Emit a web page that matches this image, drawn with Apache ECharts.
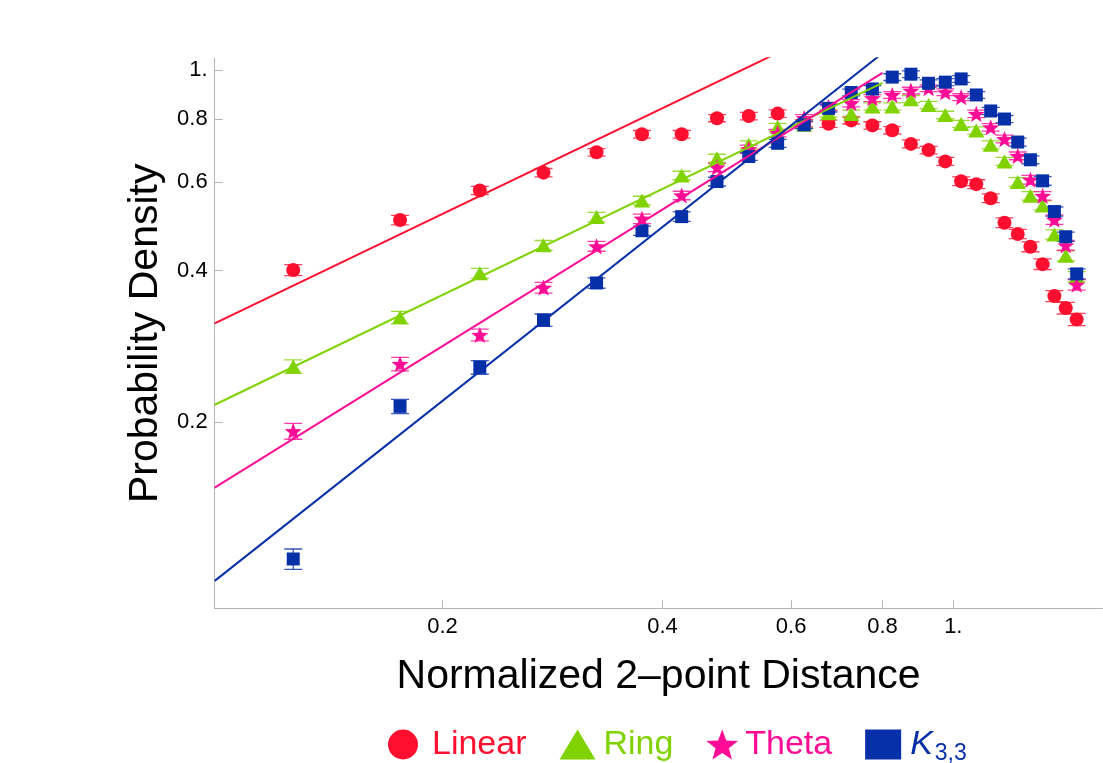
<!DOCTYPE html>
<html>
<head>
<meta charset="utf-8">
<script src="https://cdn.jsdelivr.net/npm/echarts@6/dist/echarts.min.js"></script>
<style>
html,body{margin:0;padding:0;background:#fff;}
#chart{width:1103px;height:763px;}
</style>
</head>
<body>
<div id="chart"></div>
<script>
// ---- data ----
const xValues = [0.125,0.175,0.225,0.275,0.325,0.375,0.425,0.475,0.525,0.575,0.625,0.675,0.725,0.775,0.825,0.875,0.925,0.975,1.025,1.075,1.125,1.175,1.225,1.275,1.325,1.375,1.425,1.475];

const linearY = [0.401,0.504,0.577,0.626,0.687,0.746,0.746,0.803,0.811,0.820,0.785,0.783,0.795,0.777,0.760,0.714,0.694,0.659,0.602,0.594,0.557,0.498,0.473,0.446,0.412,0.356,0.337,0.320];
const ringY   = [0.258,0.323,0.395,0.449,0.511,0.551,0.618,0.669,0.711,0.771,0.779,0.821,0.819,0.847,0.847,0.876,0.853,0.815,0.782,0.759,0.711,0.659,0.600,0.563,0.539,0.472,0.428,0.389];
const thetaY  = [0.192,0.261,0.298,0.370,0.447,0.507,0.564,0.641,0.697,0.750,0.803,0.845,0.860,0.880,0.893,0.911,0.921,0.904,0.884,0.819,0.770,0.730,0.676,0.606,0.563,0.505,0.449,0.375];
const k33Y    = [0.107,0.215,0.257,0.319,0.378,0.480,0.512,0.601,0.674,0.716,0.779,0.840,0.903,0.918,0.969,0.982,0.942,0.947,0.961,0.893,0.830,0.800,0.720,0.664,0.603,0.524,0.467,0.394];

const linearErr = [0.010,0.011,0.011,0.012,0.012,0.013,0.013,0.013,0.014,0.014,0.013,0.013,0.013,0.013,0.013,0.013,0.012,0.012,0.012,0.012,0.011,0.011,0.010,0.010,0.010,0.009,0.009,0.009];
const ringErr   = [0.008,0.009,0.009,0.010,0.011,0.011,0.012,0.012,0.013,0.013,0.013,0.014,0.014,0.014,0.014,0.014,0.014,0.014,0.013,0.013,0.013,0.012,0.012,0.011,0.011,0.010,0.010,0.009];
const thetaErr  = [0.007,0.008,0.008,0.009,0.010,0.011,0.011,0.012,0.013,0.013,0.013,0.014,0.014,0.014,0.014,0.014,0.014,0.014,0.014,0.014,0.013,0.013,0.012,0.012,0.011,0.011,0.010,0.009];
const k33Err    = [0.005,0.007,0.008,0.009,0.009,0.010,0.011,0.012,0.012,0.013,0.013,0.014,0.014,0.014,0.015,0.015,0.015,0.015,0.015,0.014,0.014,0.013,0.013,0.012,0.012,0.011,0.010,0.009];

// power-law fit lines (end points)
const linearFit = [[0.0976, 0.3143], [0.8, 1.363]];
const ringFit   = [[0.0976, 0.2166], [0.8, 0.9436]];
const thetaFit  = [[0.0976, 0.1483], [0.8, 0.9877]];
const k33Fit    = [[0.0976, 0.0968], [0.8, 1.081]];

const xTicks = [0.2, 0.4, 0.6, 0.8, 1];
const yTicks = [0.2, 0.4, 0.6, 0.8, 1];
const seriesNames = ['Linear', 'Ring', 'Theta', 'K33'];

// ---- styling ----
const FONT = 'Liberation Sans, Arial, sans-serif';
const C = { Linear: '#ff0f2f', Ring: '#80d200', Theta: '#ff0b95', K33: '#0630a8' };
const STAR = 'path://M50,0L62.34,33.01L97.55,34.55L69.97,56.49L79.39,90.45L50,71L20.61,90.45L30.03,56.49L2.45,34.55L37.66,33.01Z';
const AXIS_GRAY = '#b4b4b4';

function pts(ys, errs) { return xValues.map((x, i) => [x, ys[i], errs[i]]); }

function errRender(color) {
  return function (params, api) {
    const x = api.value(0), y = api.value(1), e = api.value(2);
    const hi = api.coord([x, y + e]);
    const lo = api.coord([x, y - e]);
    const hw = 9;
    const st = { stroke: color, lineWidth: 1.3, opacity: 0.8 };
    return {
      type: 'group',
      children: [
        { type: 'line', shape: { x1: hi[0], y1: hi[1], x2: lo[0], y2: lo[1] }, style: st },
        { type: 'line', shape: { x1: hi[0] - hw, y1: hi[1], x2: hi[0] + hw, y2: hi[1] }, style: st },
        { type: 'line', shape: { x1: lo[0] - hw, y1: lo[1], x2: lo[0] + hw, y2: lo[1] }, style: st }
      ]
    };
  };
}

const sets = [
  { name: 'Linear', ys: linearY, errs: linearErr, fit: linearFit, symbol: 'circle', size: 14 },
  { name: 'Ring',   ys: ringY,   errs: ringErr,   fit: ringFit,   symbol: 'triangle', size: [16, 14] },
  { name: 'Theta',  ys: thetaY,  errs: thetaErr,  fit: thetaFit,  symbol: STAR, size: 17 },
  { name: 'K33',    ys: k33Y,    errs: k33Err,    fit: k33Fit,    symbol: 'rect', size: 13 }
];

const series = [];
sets.forEach((s, i) => {
  const data = pts(s.ys, s.errs);
  series.push({
    type: 'custom', name: s.name + ' err', renderItem: errRender(C[s.name]),
    data: data, encode: { x: 0, y: 1 }, z: 2 + i * 0.1, silent: true, clip: true
  });
  series.push({
    type: 'scatter', name: s.name, data: data, encode: { x: 0, y: 1 },
    symbol: s.symbol, symbolSize: s.size, symbolKeepAspect: true,
    itemStyle: { color: C[s.name], opacity: 1 }, z: 3 + i * 0.1, silent: true
  });
});
sets.forEach((s, i) => {
  series.push({
    type: 'line', name: s.name + ' fit', data: s.fit, showSymbol: false, symbol: 'none',
    lineStyle: { color: C[s.name], width: 2 }, z: 4 + i * 0.1, silent: true, clip: true
  });
});

function fmt(v) {
  const r = Math.round(v * 10) / 10;
  return r === 1 ? '1.' : r.toFixed(1);
}

const chart = echarts.init(document.getElementById('chart'), null, { renderer: 'canvas' });
chart.setOption({
  animation: false,
  backgroundColor: '#ffffff',
  grid: { left: 214.7, right: 0.5, top: 58.3, bottom: 154.7, containLabel: false },
  xAxis: {
    type: 'log', logBase: 10, min: 0.0976, max: 1.6,
    name: 'Normalized 2\u2013point Distance', nameLocation: 'middle', nameGap: 48,
    nameTextStyle: { fontFamily: FONT, fontSize: 41, color: '#000' },
    axisLine: { show: true, lineStyle: { color: AXIS_GRAY, width: 1 } },
    axisTick: { show: true, inside: true, length: 8, lineStyle: { color: AXIS_GRAY }, customValues: xTicks },
    axisLabel: { show: true, customValues: xTicks, formatter: fmt, fontFamily: FONT, fontSize: 22, color: '#000', margin: 8 },
    splitLine: { show: false }, minorTick: { show: false }
  },
  yAxis: {
    type: 'log', logBase: 10, min: 0.0854, max: 1.056,
    name: 'Probability Density', nameLocation: 'middle', nameGap: 47,
    nameTextStyle: { fontFamily: FONT, fontSize: 41, color: '#000' },
    axisLine: { show: true, lineStyle: { color: AXIS_GRAY, width: 1 } },
    axisTick: { show: true, inside: true, length: 8, lineStyle: { color: AXIS_GRAY }, customValues: yTicks },
    axisLabel: { show: true, customValues: yTicks, formatter: fmt, fontFamily: FONT, fontSize: 22, color: '#000', margin: 7 },
    splitLine: { show: false }, minorTick: { show: false }
  },
  legend: {
    show: true, left: 383, top: 719, orient: 'horizontal',
    itemWidth: 36, itemHeight: 30, itemGap: 33,
    selectedMode: false,
    data: [
      { name: 'Linear', icon: 'circle', textStyle: { color: C.Linear, padding: [0, 0, 0, 6] } },
      { name: 'Ring', icon: 'triangle', textStyle: { color: C.Ring, padding: [0, 0, 0, 3] } },
      { name: 'Theta', icon: STAR, textStyle: { color: C.Theta } },
      { name: 'K33', icon: 'rect', textStyle: { color: C.K33, padding: [0, 0, 0, 4] } }
    ],
    formatter: function (name) { return name === 'K33' ? '{k|K}{s|3,3}' : name; },
    textStyle: {
      fontFamily: FONT, fontSize: 34, lineHeight: 34,
      rich: {
        k: { fontFamily: FONT, fontSize: 34, fontStyle: 'italic', color: C.K33, lineHeight: 34 },
        s: { fontFamily: FONT, fontSize: 23, color: C.K33, lineHeight: 34, padding: [18, 0, 0, 2] }
      }
    }
  },
  series: series
});
</script>
</body>
</html>
